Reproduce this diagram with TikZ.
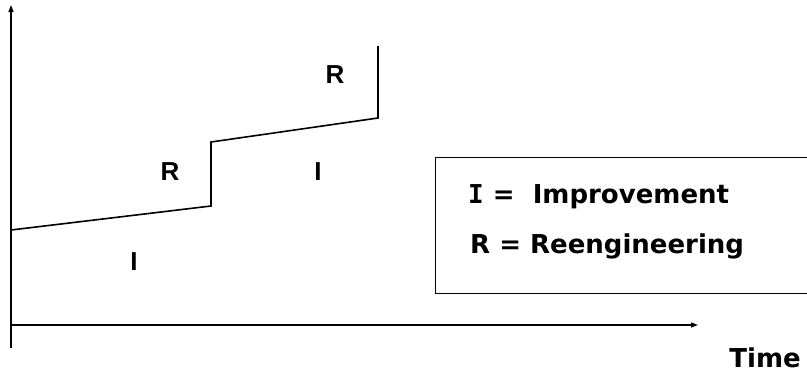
\documentclass[tikz,border=0pt]{standalone}
\usepackage{fontspec}
\setmainfont{DejaVu Sans}
\newfontfamily\regionfont{Liberation Sans}
\newfontfamily\slabfont{DejaVu Sans Mono}
\usetikzlibrary{arrows.meta}
\begin{document}
\begin{tikzpicture}[x=1pt,y=-1pt,
  axis/.style={line width=1.3pt,-{Triangle[length=7pt,width=5pt]}},
  curve/.style={line width=1.6pt},
  lbl/.style={font=\bfseries\fontsize{26}{30}\selectfont,inner sep=0pt},
  region/.style={font=\regionfont\bfseries\fontsize{26}{30}\selectfont,inner sep=0pt},
  legend/.style={draw,line width=1.2pt}]
  \useasboundingbox (0,0) rectangle (807,373);
  % axes
  \coordinate (o) at (11,325);
  \coordinate (ytop) at (11,5);
  \coordinate (ybot) at (11,348);
  \coordinate (xend) at (698,325);
  \draw[axis] (ybot) -- (ytop);
  \draw[axis] (o) -- (xend);
  % improvement / reengineering staircase
  \coordinate (s0) at (11,230);
  \coordinate (s1) at (211,206);
  \coordinate (s2) at (211,142);
  \coordinate (s3) at (378,118);
  \coordinate (s4) at (378,46);
  \draw[curve] (s0) -- (s1) -- (s2) -- (s3) -- (s4);
  % region labels
  \node[region] (r2) at (335,75) {R};
  \node[region] (r1) at (170,172) {R};
  \node[region] (i2) at (318,172) {I};
  \node[region] (i1) at (134,262) {I};
  % legend
  \node[legend,minimum width=373pt,minimum height=136pt,anchor=north west,inner sep=0pt] (box) at (435,157) {};
  \node[lbl,anchor=west] (li) at (468,197) {{\slabfont I} =\ \ Improvement};
  \node[lbl,anchor=west] (lr) at (470,246) {R = Reengineering};
  % axis title
  \node[lbl,anchor=east] (time) at (801,358) {Time};
\end{tikzpicture}
\end{document}
